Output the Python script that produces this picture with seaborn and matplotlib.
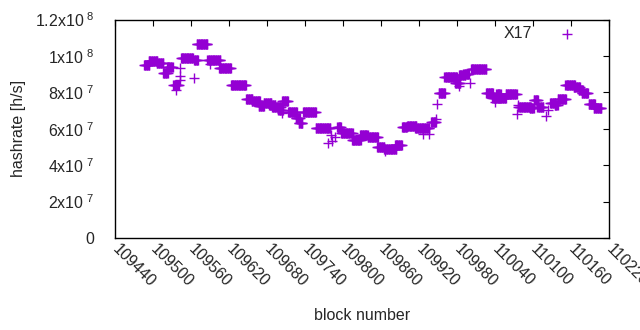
import matplotlib.pyplot as plt
import numpy as np
import pandas as pd
import seaborn as sns

# hashrate is constant between difficulty changes -> runs of blocks with one value
seg_start = [109486, 109493, 109506, 109516, 109522, 109532, 109544, 109565, 109569, 109586,
             109604, 109623, 109647, 109656, 109667, 109675, 109683, 109688, 109698, 109704,
             109713, 109725, 109730, 109737, 109757, 109791, 109797, 109814, 109827, 109839,
             109854, 109865, 109882, 109893, 109901, 109914, 109939, 109951, 109960, 109977,
             109983, 109990, 110002, 110026, 110036, 110042, 110048, 110057, 110077, 110095,
             110101, 110107, 110127, 110134, 110139, 110151, 110164, 110172, 110177, 110188,
             110196]
seg_end = [109494, 109507, 109516, 109523, 109531, 109541, 109563, 109571, 109586, 109606,
           109623, 109647, 109657, 109669, 109675, 109687, 109693, 109702, 109705, 109713,
           109727, 109732, 109736, 109757, 109780, 109797, 109815, 109828, 109839, 109855,
           109865, 109884, 109893, 109901, 109916, 109936, 109947, 109961, 109980, 109985,
           109993, 109999, 110026, 110037, 110048, 110049, 110057, 110074, 110097, 110101,
           110108, 110116, 110135, 110139, 110152, 110166, 110174, 110179, 110187, 110198,
           110208]
seg_hashrate = [9.49, 9.70, 9.59, 9.08, 9.37, 8.41, 9.86, 9.78, 10.63, 9.78,
                9.31, 8.43, 7.61, 7.50, 7.24, 7.41, 7.30, 7.19, 7.02, 7.54,
                6.91, 6.58, 6.31, 6.91, 6.02, 6.09, 5.79, 5.38, 5.67, 5.53,
                5.01, 4.90, 5.12, 6.09, 6.15, 6.05, 6.36, 7.94, 8.82, 8.50,
                8.94, 9.00, 9.26, 7.99, 7.68, 7.90, 7.67, 7.90, 7.20, 7.13,
                7.57, 7.20, 7.39, 7.30, 7.61, 8.43, 8.29, 8.12, 7.97, 7.35,
                7.15]  # x1e7

outlier_block = [109537, 109542, 109542, 109543, 109564, 109590, 109703, 109777, 109782,
                 109781, 109787, 109792, 109867, 109926, 109936, 109947, 109949, 109983,
                 110000, 110040, 110075, 110077, 110120, 110123]
outlier_hashrate = [8.14, 8.91, 8.67, 9.31, 8.76, 9.55, 6.85, 5.21, 5.32,
                    5.65, 5.54, 6.05, 4.77, 5.69, 5.69, 6.53, 7.34, 8.36,
                    8.54, 7.48, 6.79, 7.30, 6.71, 7.02]

x_ticks = [109440, 109500, 109560, 109620, 109680, 109740, 109800, 109860, 109920,
           109980, 110040, 110100, 110160, 110220]
y_ticks = [0, 2e7, 4e7, 6e7, 8e7, 1e8, 1.2e8]
y_tick_labels = ['0', r'$\mathregular{2x10^{\ 7}}$', r'$\mathregular{4x10^{\ 7}}$',
                 r'$\mathregular{6x10^{\ 7}}$', r'$\mathregular{8x10^{\ 7}}$',
                 r'$\mathregular{1x10^{\ 8}}$', r'$\mathregular{1.2x10^{\ 8}}$']

blocks = []
rates = []
for s, e, v in zip(seg_start, seg_end, seg_hashrate):
    for b in range(s, e + 1):
        blocks.append(b)
        rates.append(v * 1e7)
blocks += outlier_block
rates += [v * 1e7 for v in outlier_hashrate]
df = pd.DataFrame({'block': blocks, 'hashrate': rates})

sns.set_style('white')
plt.rcParams['font.family'] = ['Liberation Sans', 'DejaVu Sans']
plt.rcParams['mathtext.fontset'] = 'custom'
plt.rcParams['mathtext.rm'] = 'Liberation Sans'

fs = 11.5
fig, ax = plt.subplots(figsize=(6.4, 3.3), dpi=100)
fig.subplots_adjust(left=115 / 640, right=609 / 640, top=1 - 19.5 / 330, bottom=1 - 238 / 330)

sns.scatterplot(data=df, x='block', y='hashrate', marker='+', s=42, color='#9400d3',
                linewidth=1.0, ax=ax, label='X17')

ax.set_xlim(109440, 110220)
ax.set_ylim(0, 1.2e8)
ax.set_xticks(x_ticks)
ax.set_xticklabels([str(t) for t in x_ticks], rotation=-45, ha='left', va='center',
                   rotation_mode='anchor', fontsize=fs)
ax.set_yticks(y_ticks)
ax.set_yticklabels(y_tick_labels, fontsize=fs)
ax.tick_params(direction='in', top=True, right=True, length=4, width=0.8, color='black')
ax.tick_params(axis='y', pad=15)
ax.tick_params(axis='x', pad=6)
for sp in ax.spines.values():
    sp.set_color('black')
    sp.set_linewidth(1)

ax.set_xlabel('block number', fontsize=fs)
ax.set_ylabel('hashrate [h/s]', fontsize=fs)
ax.xaxis.set_label_coords(0.5, -0.32)
ax.yaxis.set_label_coords(-0.18, 0.5)

ax.legend(loc='upper right', bbox_to_anchor=(0.97, 1.0), markerfirst=False, frameon=False,
          handlelength=2.6, handletextpad=0.9, borderaxespad=0, fontsize=fs)

fig.savefig('out.png', dpi=100)
